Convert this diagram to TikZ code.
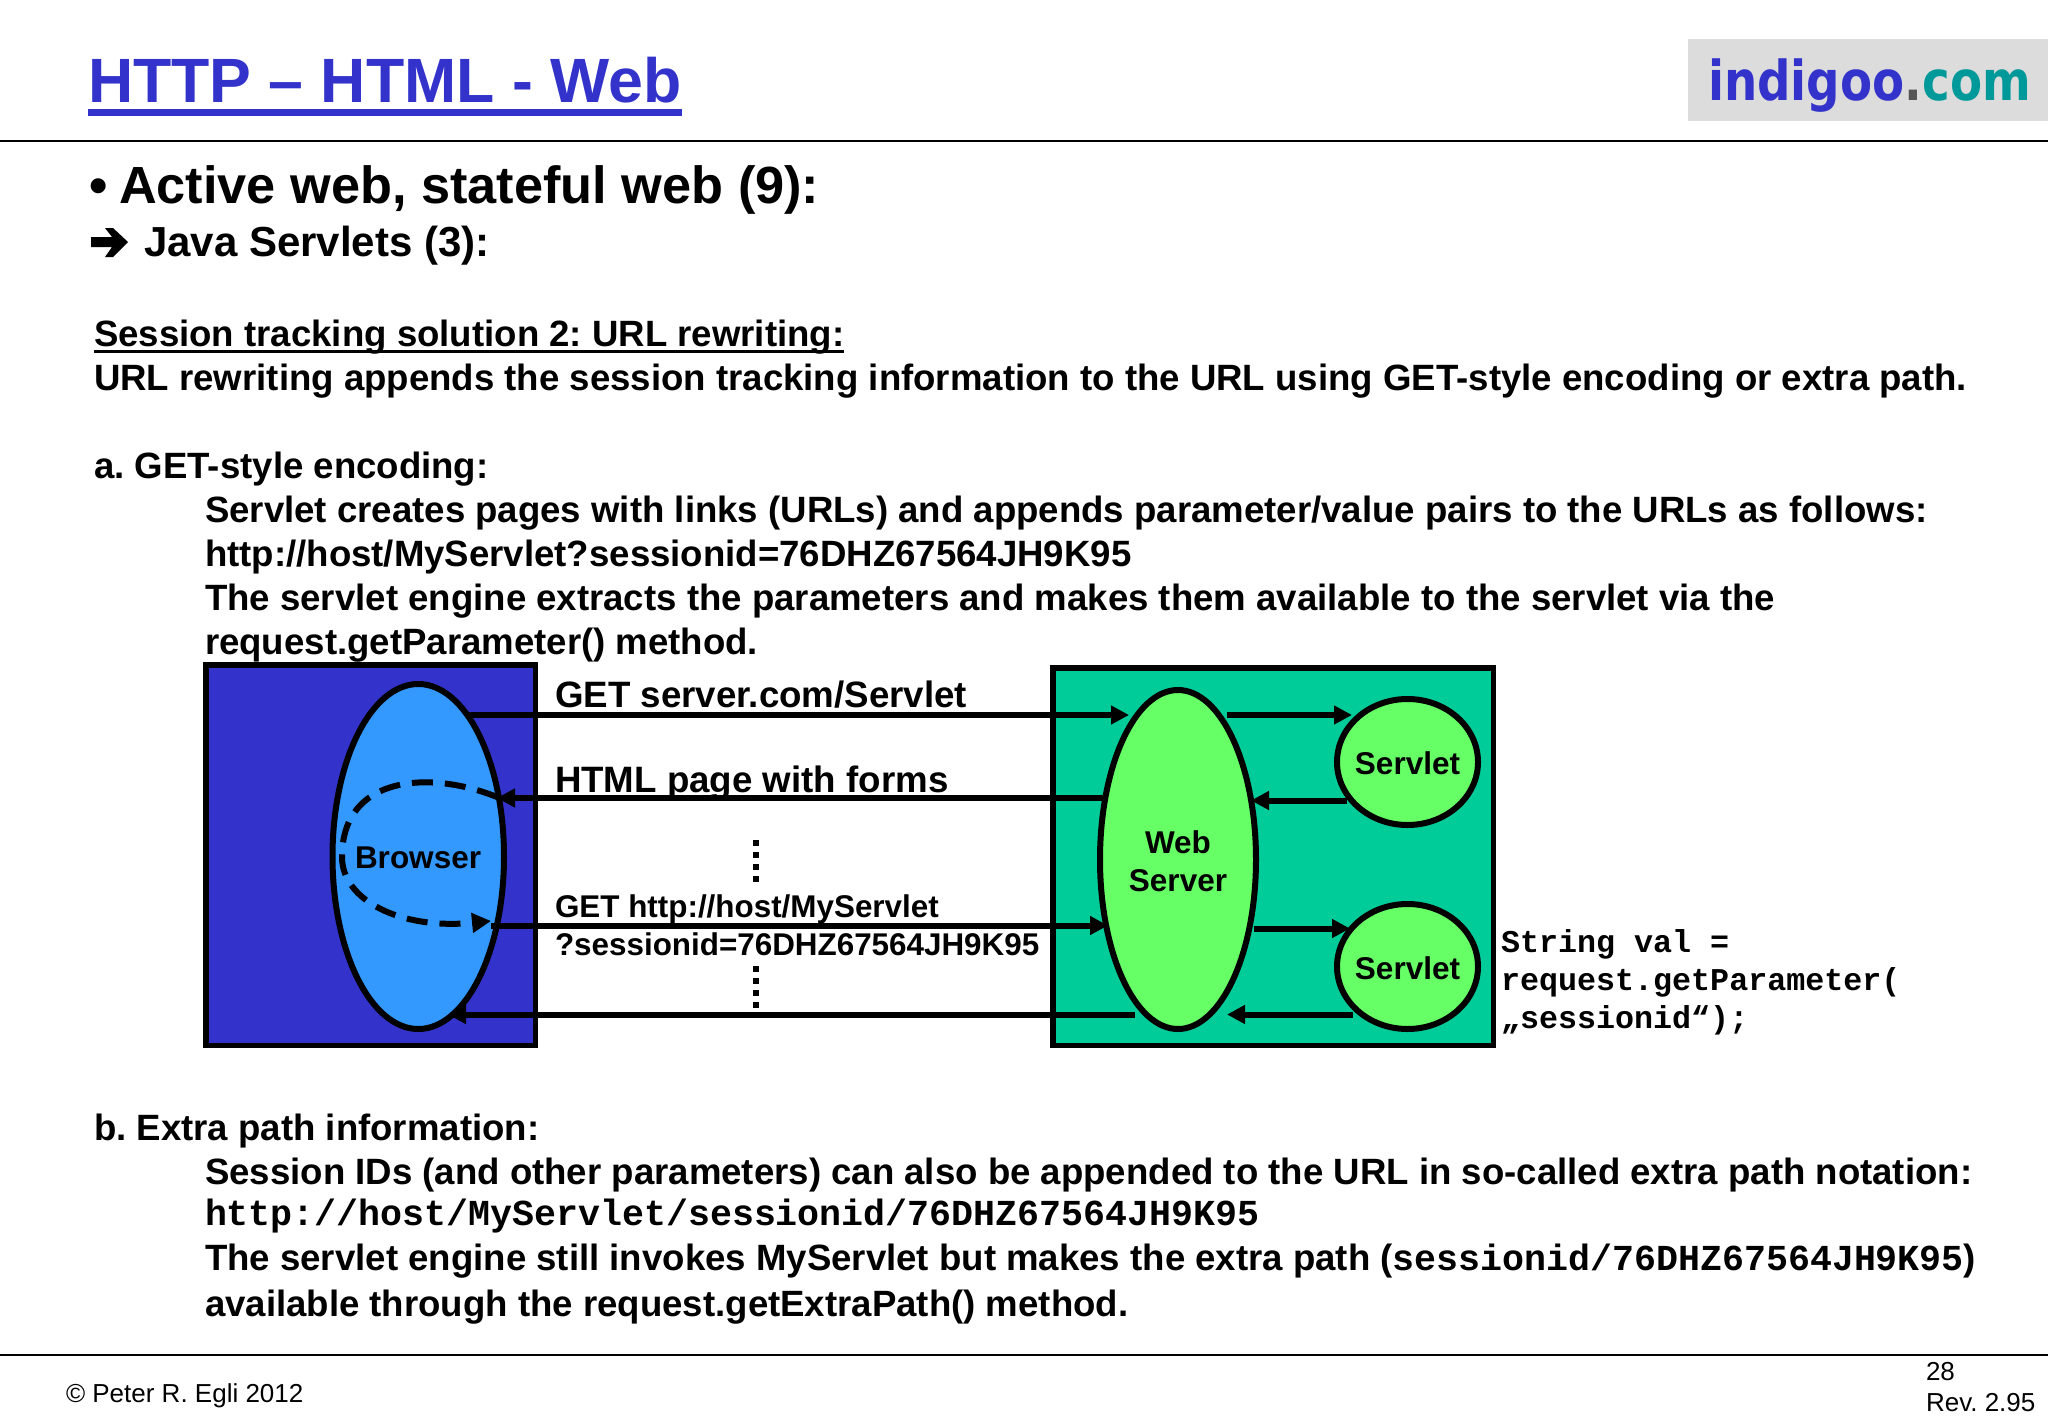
\documentclass[tikz,border=0pt]{standalone}
\usepackage{fontspec}
\usetikzlibrary{shapes.geometric,arrows.meta}
\setmainfont{Liberation Sans}
\setmonofont{Liberation Mono}
\newfontfamily\logofont[FakeStretch=0.85]{DejaVu Sans}
\definecolor{titleblue}{HTML}{3333CC}
\definecolor{browserblue}{HTML}{3399FF}
\definecolor{servergreen}{HTML}{00CC99}
\definecolor{lightgreen}{HTML}{66FF66}
\definecolor{logogrey}{HTML}{DCDCDC}
\definecolor{logodot}{HTML}{555555}
\definecolor{logoteal}{HTML}{009999}
\newcommand{\fs}[1]{\fontsize{#1}{#1}\selectfont}
\frenchspacing
\tikzset{
  lbl/.style={anchor=base west,inner sep=0pt,outer sep=0pt,font=\bfseries\fs{36.6}},
  box/.style={draw=black,line width=5.5pt,anchor=north west,inner sep=0pt},
  oval/.style={ellipse,draw=black,line width=6pt,inner sep=0pt,align=center},
  conn/.style={line width=6pt,-{Triangle[length=18pt,width=18pt]}},
  dotline/.style={line width=6pt,dash pattern=on 5.5pt off 6.5pt},
  rulel/.style={line width=2pt},
}
\begin{document}
\begin{tikzpicture}[x=1pt,y=-1pt]
\useasboundingbox (0,0) rectangle (2048,1418);
% header
\node[lbl,font=\bfseries\fs{62.6},text=titleblue] (title) at (88,103) {HTTP – HTML - Web};
\draw[titleblue,line width=7pt] ([yshift=-9.5pt]title.base west) -- ([yshift=-9.5pt]title.base east);
\coordinate (hl) at (0,141.5); \coordinate (hr) at (2048,141.5);
\draw[rulel] (hl) -- (hr);
\node[anchor=north west,fill=logogrey,minimum width=360pt,minimum height=82pt,inner sep=0pt] (logobox) at (1688,39) {};
\node[lbl,font=\logofont\bfseries\fs{55}] (logo) at (1708,100.5) {\textcolor{titleblue}{indigoo}\textcolor{logodot}{.}\textcolor{logoteal}{com}};
% headings
\node[lbl,font=\bfseries\fs{52.3}] (bul) at (89,203) {•};
\node[lbl,font=\bfseries\fs{52.3}] (h1) at (119,203) {Active web, stateful web (9):};
\fill (91,237) -- (112,237) -- (105,228) -- (113,228) -- (128,242) -- (113,257) -- (105,257) -- (112,247) -- (91,247) -- cycle;
\node[lbl,font=\bfseries\fs{42}] (h2) at (144,256) {Java Servlets (3):};
% body
\node[lbl] (t1) at (94,346) {Session tracking solution 2: URL rewriting:};
\draw[line width=3.3pt] ([yshift=-5.5pt]t1.base west) -- ([yshift=-5.5pt]t1.base east);
\node[lbl] (t2) at (94,390) {URL rewriting appends the session tracking information to the URL using GET-style encoding or extra path.};
\node[lbl] (t3) at (94,478) {a. GET-style encoding:};
\node[lbl] (t4) at (205,522.5) {Servlet creates pages with links (URLs) and appends parameter/value pairs to the URLs as follows:};
\node[lbl] (t5) at (205,566) {http://host/MyServlet?sessionid=76DHZ67564JH9K95};
\node[lbl] (t6) at (205,610) {The servlet engine extracts the parameters and makes them available to the servlet via the};
\node[lbl] (t7) at (205,654) {request.getParameter() method.};
\node[lbl] (t8) at (94,1140) {b. Extra path information:};
\node[lbl] (t9) at (205,1184) {Session IDs (and other parameters) can also be appended to the URL in so-called extra path notation:};
\node[lbl,font=\ttfamily\bfseries\fs{36.6}] (t10) at (205,1225.5) {http://host/MyServlet/sessionid/76DHZ67564JH9K95};
\node[lbl] (t11) at (205,1270.5) {The servlet engine still invokes MyServlet but makes the extra path ({\ttfamily sessionid/76DHZ67564JH9K95})};
\node[lbl] (t12) at (205,1316) {available through the request.getExtraPath() method.};
% diagram boxes
\node[box,fill=titleblue,minimum width=329.5pt,minimum height=380.5pt] (client) at (203,662) {};
\node[box,fill=servergreen,minimum width=440.5pt,minimum height=377.5pt] (server) at (1050,665) {};
\node[oval,fill=browserblue,minimum width=171.5pt,minimum height=345pt] (brow) at (418.25,856.5) {};
\node[oval,fill=lightgreen,minimum width=156pt,minimum height=339pt] (web) at (1178,859.5) {};
\node[oval,fill=lightgreen,minimum width=141pt,minimum height=126pt] (s1) at (1407.5,762) {};
\node[oval,fill=lightgreen,minimum width=141pt,minimum height=125pt] (s2) at (1407.5,966.5) {};
\node[lbl,font=\bfseries\fs{31.5}] (browt) at (355,868) {Browser};
\node[lbl,anchor=base,font=\bfseries\fs{31.5}] (webt1) at (1178,853) {Web};
\node[lbl,anchor=base,font=\bfseries\fs{31.5}] (webt2) at (1178,891) {Server};
\node[lbl,anchor=base,font=\bfseries\fs{31.5}] (s1t) at (1407.5,774) {Servlet};
\node[lbl,anchor=base,font=\bfseries\fs{31.5}] (s2t) at (1407.5,979) {Servlet};
% levels
\coordinate (y1) at (0,715); \coordinate (y2) at (0,798); \coordinate (y3) at (0,925.5); \coordinate (y4) at (0,1014.5);
\coordinate (y5) at (0,800.5); \coordinate (y6) at (0,928.5);
% connectors
\draw[conn] ([xshift=-39pt]brow.east |- y1) -- ([xshift=32pt]web.west |- y1);
\draw[conn] ([xshift=6pt]web.west |- y2) -- ([xshift=-10pt]brow.east |- y2);
\draw[conn] ([xshift=-16pt]brow.east |- y3) -- ([xshift=11pt]web.west |- y3);
\draw[conn] ([xshift=38pt]web.west |- y4) -- ([xshift=-59pt]brow.east |- y4);
\draw[conn] ([xshift=-32pt]web.east |- y1) -- ([xshift=18pt]s1.west |- y1);
\draw[conn] ([xshift=13pt]s1.west |- y5) -- ([xshift=-8pt]web.east |- y5);
\draw[conn] ([xshift=-5pt]web.east |- y6) -- ([xshift=16pt]s2.west |- y6);
\draw[conn] ([xshift=19pt]s2.west |- y4) -- ([xshift=-32pt]web.east |- y4);
% dashed loop
\coordinate (da) at (497,797); \coordinate (db) at (342,857); \coordinate (dc) at (491,921);
\draw[line width=6pt,dash pattern=on 21pt off 12pt,-{Triangle[length=19pt,width=19pt]}] (da) .. controls (430,770) and (342,775) .. (db) .. controls (342,900) and (400,930) .. (dc);
% dots
\coordinate (d1a) at (755.5,840); \coordinate (d1b) at (755.5,882);
\coordinate (d2a) at (755.5,966); \coordinate (d2b) at (755.5,1008);
\draw[dotline] (d1a) -- (d1b);
\draw[dotline] (d2a) -- (d2b);
% labels
\node[lbl,font=\bfseries\fs{36.7}] (l1) at (555,707) {GET server.com/Servlet};
\node[lbl,font=\bfseries\fs{36.7}] (l2) at (555,792) {HTML page with forms};
\node[lbl,font=\bfseries\fs{31.4}] (l3) at (555,917) {GET http://host/MyServlet};
\node[lbl,font=\bfseries\fs{31.4}] (l4) at (555,955) {?sessionid=76DHZ67564JH9K95};
\node[lbl,font=\ttfamily\bfseries\fs{31.7}] (c1) at (1501,952) {String val =};
\node[lbl,font=\ttfamily\bfseries\fs{31.7}] (c2) at (1501,990) {request.getParameter(};
\node[lbl,font=\ttfamily\bfseries\fs{31.7}] (c3) at (1501,1028) {„sessionid“);};
% footer
\coordinate (fl) at (0,1354.5) ; \coordinate (fr) at (2048,1354.5);
\draw[rulel] (fl) -- (fr);
\node[lbl,font=\fs{26}] (f1) at (66,1402) {© Peter R. Egli 2012};
\node[lbl,font=\fs{26}] (f2) at (1926,1380) {28};
\node[lbl,font=\fs{26}] (f3) at (1926,1411) {Rev. 2.95};
\end{tikzpicture}
\end{document}
